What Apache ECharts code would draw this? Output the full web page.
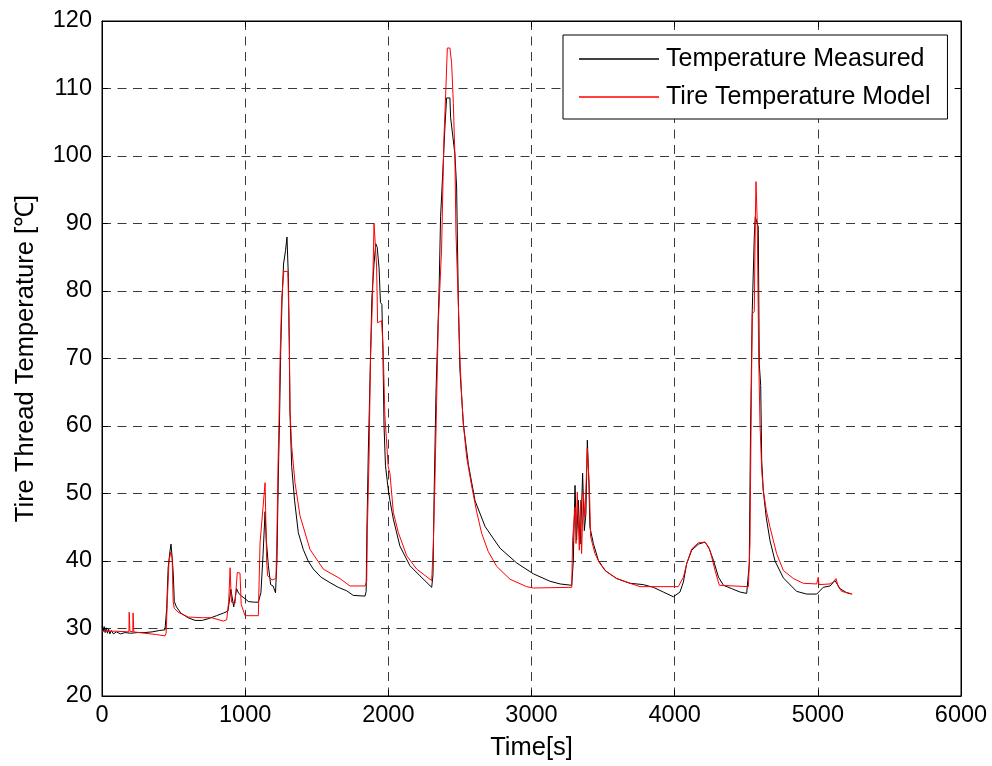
<!DOCTYPE html>
<html>
<head>
<meta charset="utf-8">
<script src="https://cdn.jsdelivr.net/npm/echarts@6/dist/echarts.min.js"></script>
<style>
html,body{margin:0;padding:0;background:#fff;}
#chart{width:992px;height:766px;}
</style>
</head>
<body>
<div id="chart"></div>
<script>
// ---- Data (time [s], temperature [°C]) ----
const seriesNames = ['Temperature Measured', 'Tire Temperature Model'];

const measuredData = [
[0,30.4],[8,29.6],[15,30.3],[22,29.4],[30,30.1],[38,29.3],[46,29.9],[55,29.2],[65,29.7],[80,29.2],[100,29.5],[130,29.2],[160,29.4],[200,29.3],[250,29.4],[300,29.4],[350,29.5],[400,29.7],[440,29.8],
[452,33],[462,39],[475,41.5],[482,42.5],[490,40.5],[498,38],[505,34],[520,33.2],[550,32.3],[600,31.6],[650,31.2],[700,31.2],[750,31.5],[800,31.9],[850,32.3],[880,32.6],
[892,34.5],[900,35.8],[912,35.6],[920,33.2],[930,34.5],[940,35.9],[955,35.2],[975,34.8],[1000,34.4],[1022,34.0],[1060,33.9],[1092,33.9],[1110,35.3],[1125,41],[1139,47.3],[1148,43],[1162,39.3],[1178,36.5],[1195,36.3],[1212,35.3],
[1222,40],[1228,48],[1234,55],[1240,61],[1248,71],[1258,79],[1268,84],[1282,86],[1292,88],[1297,88.1],[1302,82],[1308,72],[1313,62],[1325,54],[1345,49],[1371,44.2],[1406,41.7],[1440,40],[1476,38.8],[1530,37.6],[1592,36.8],[1650,36.1],[1708,35.6],[1755,34.9],[1837,34.8],
[1845,35.5],[1850,44],[1860,56],[1875,69.6],[1885,79],[1900,84],[1912,87],[1922,86.5],[1935,83.5],[1945,78.3],[1955,78],[1962,71.3],[1970,60],[1980,54.1],[2000,50.5],[2011,49],[2035,46.2],[2081,42.2],[2151,39.3],[2221,37.8],[2303,36.1],
[2312,38],[2320,50],[2333,65],[2354,79.7],[2365,91],[2379,97],[2396,104.6],[2407,108.6],[2430,108.6],[2435,105.7],[2465,100.3],[2477,95.4],[2489,78.6],[2500,68.4],[2524,60.3],[2559,54.3],[2606,48.9],[2676,45.1],[2780,41.9],[2897,39.7],[3013,38.1],[3129,37.0],[3200,36.6],[3281,36.4],
[3292,40],[3304,51.2],[3315,43.1],[3327,49],[3339,42.5],[3350,48],[3357,53],[3369,44.5],[3380,47],[3390,57.9],[3401,51.5],[3408,45],[3432,42.6],[3467,40.1],[3513,38.6],[3595,37.4],[3688,36.7],[3781,36.5],[3851,36.1],[3921,35.4],[3991,34.7],[4037,35.4],[4061,36.9],[4084,39.6],[4119,41.6],[4166,42.5],[4212,42.8],[4236,42.1],[4271,40.1],[4306,37.6],[4341,36.4],[4399,35.9],[4457,35.4],[4503,35.2],[4514,35],
[4521,39.5],[4530,59.3],[4542,77.1],[4556,88],[4563,91],[4572,91],[4584,89.5],[4591,69.2],[4601,66],[4608,54.9],[4619,50.4],[4640,46.4],[4666,43],[4701,40],[4759,37.5],[4852,35.5],[4922,35.1],[4992,35.1],[5038,36.1],[5085,36.3],[5120,37.1],[5155,35.9],[5201,35.3],[5236,35.1]
];

const modelData = [
[0,29.6],[100,29.6],[188,29.5],[190,32.4],[193,32.4],[195,29.6],[215,29.5],[217,32.3],[220,32.3],[222,29.5],[300,29.3],[380,29.1],[440,28.9],[448,29.3],[458,35],[468,40],[480,41.3],[490,40.5],[497,34],[505,33],[533,32.4],[603,31.7],[700,31.6],[766,31.6],[847,31.1],[871,31.3],[885,34],[895,39.0],[900,36],[905,33.9],[929,33.7],[945,38.3],[964,38.2],[972,33.6],[999,31.9],[1092,31.9],[1104,42.7],[1125,48],[1139,51.6],[1146,51.6],[1150,40],[1157,37.8],[1188,37.2],[1215,37.4],
[1222,44],[1230,54.8],[1236,60.4],[1245,71],[1255,78.7],[1270,82.9],[1298,82.9],[1309,72.3],[1313,62.5],[1325,57],[1348,51.6],[1383,46.7],[1453,41.7],[1546,38.8],[1662,37.4],[1732,36.3],[1837,36.3],
[1849,37],[1853,44.2],[1866,56],[1875,70],[1889,78.7],[1900,90],[1911,90],[1918,83.7],[1925,75.3],[1953,75.6],[1964,71.3],[1976,61.5],[1999,54],[2011,53],[2035,47.2],[2070,44.2],[2128,40.8],[2198,38.8],[2303,37.1],
[2314,42.4],[2326,52.2],[2337,63.5],[2349,75.4],[2372,86.2],[2388,102.4],[2402,110],[2412,116],[2430,116],[2442,113.8],[2454,107.8],[2465,100],[2472,88.9],[2489,78],[2500,70],[2512,64.6],[2524,60.3],[2547,55.4],[2582,51.1],[2617,47.3],[2652,44.1],[2698,41.4],[2757,39.2],[2850,37.3],[2966,36.2],[3013,36],[3281,36.1],
[3287,43.1],[3304,48],[3311,42.6],[3320,50.2],[3334,41.6],[3343,49],[3350,41.1],[3362,50],[3373,46.5],[3390,56.7],[3404,51],[3413,43.6],[3443,41.1],[3478,39.6],[3525,38.4],[3595,37.4],[3688,36.7],[3758,36.2],[4025,36.2],[4061,37.6],[4084,39.6],[4119,41.8],[4166,42.7],[4212,42.8],[4247,41.6],[4282,38.6],[4312,36.4],[4515,36.2],
[4526,42.5],[4533,58.8],[4542,76.6],[4556,77],[4563,90],[4568,96.2],[4572,96],[4577,90],[4587,70.2],[4596,60.3],[4608,53.4],[4619,50.5],[4640,47.5],[4666,45],[4712,41.1],[4759,38.6],[4829,37.4],[4898,36.7],[4992,36.6],[5001,36.6],[5003,37.6],[5006,37.6],[5008,36.5],[5085,36.6],[5108,36.9],[5127,37.4],[5143,36.2],[5166,35.5],[5225,35.2],[5240,35.1]
];

const xRange = {min: 0, max: 6000, interval: 1000};
const yRange = {min: 20, max: 120, interval: 10};
const xTitle = 'Time[s]';
const yTitle = 'Tire Thread Temperature [℃]';

// ---- Chart ----
const FONT = '"Liberation Sans", Arial, Helvetica, sans-serif';
const chart = echarts.init(document.getElementById('chart'), null, {renderer: 'canvas'});

const gridDash = {type: [9, 6.5], color: '#3a3a3a', width: 1};
const baseAxis = {
  axisLine: {show: true, onZero: false, lineStyle: {color: '#000', width: 1}},
  axisTick: {show: true, inside: true, length: 6, lineStyle: {color: '#000'}}
};
const plainNum = function (v) { return String(v); };

chart.setOption({
  animation: false,
  backgroundColor: '#fff',
  grid: {left: 102, right: 31, top: 21, bottom: 69, show: true, borderColor: '#000', borderWidth: 1, containLabel: false},
  legend: {
    orient: 'vertical',
    left: 563, top: 35,
    padding: [11, 17, 9, 16],
    itemGap: 12,
    itemWidth: 80, itemHeight: 1.4,
    icon: 'rect',
    borderColor: '#000', borderWidth: 1, backgroundColor: '#fff',
    textStyle: {fontFamily: FONT, fontSize: 25, color: '#000', lineHeight: 26, padding: [0, 0, 0, 2]},
    data: seriesNames
  },
  xAxis: [
    Object.assign({}, baseAxis, {
      type: 'value', position: 'bottom', min: xRange.min, max: xRange.max, interval: xRange.interval,
      axisLabel: {color: '#000', fontSize: 23.5, fontFamily: FONT, margin: 8, formatter: plainNum},
      splitLine: {show: true, lineStyle: gridDash},
      name: xTitle, nameLocation: 'middle', nameGap: 39,
      nameTextStyle: {color: '#000', fontSize: 25.5, fontFamily: FONT}
    }),
    Object.assign({}, baseAxis, {
      type: 'value', position: 'top', min: xRange.min, max: xRange.max, interval: xRange.interval,
      axisLabel: {show: false}, splitLine: {show: false}
    })
  ],
  yAxis: [
    Object.assign({}, baseAxis, {
      type: 'value', position: 'left', min: yRange.min, max: yRange.max, interval: yRange.interval,
      axisLabel: {color: '#000', fontSize: 23.5, fontFamily: FONT, margin: 10, formatter: plainNum},
      splitLine: {show: true, lineStyle: gridDash},
      name: yTitle, nameLocation: 'middle', nameGap: 63,
      nameTextStyle: {color: '#000', fontSize: 25.5, fontFamily: FONT}
    }),
    Object.assign({}, baseAxis, {
      type: 'value', position: 'right', min: yRange.min, max: yRange.max, interval: yRange.interval,
      axisLabel: {show: false}, splitLine: {show: false}
    })
  ],
  series: [
    {
      name: seriesNames[0], type: 'line', data: measuredData,
      xAxisIndex: 0, yAxisIndex: 0,
      showSymbol: false, symbol: 'none',
      lineStyle: {color: '#000', width: 1},
      itemStyle: {color: '#000'},
      z: 2
    },
    {
      name: seriesNames[1], type: 'line', data: modelData,
      xAxisIndex: 0, yAxisIndex: 0,
      showSymbol: false, symbol: 'none',
      lineStyle: {color: '#ff0000', width: 1},
      itemStyle: {color: '#ff0000'},
      z: 3
    }
  ]
});
</script>
</body>
</html>
